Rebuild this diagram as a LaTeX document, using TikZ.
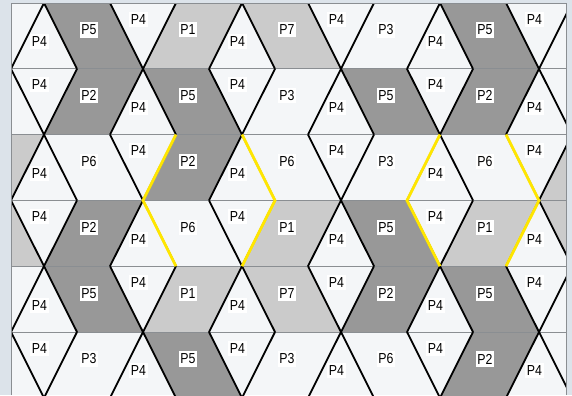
\documentclass[tikz,border=0pt]{standalone}
\usepackage{fontspec}
\usepackage{tikz}
\newfontfamily\lblfont[FakeStretch=0.85]{Liberation Sans}
\definecolor{outerbg}{HTML}{DCE3EA}
\definecolor{whitetile}{HTML}{F4F6F8}
\definecolor{lighttile}{HTML}{CBCBCB}
\definecolor{darktile}{HTML}{989898}
\definecolor{gridgray}{HTML}{8A8E92}
\definecolor{hexyellow}{HTML}{FFE600}

\begin{document}
\begin{tikzpicture}[x=33pt, y=-65.8pt,
    lbl/.style={fill=white, inner xsep=1.5pt, inner ysep=2.5pt,
                font=\lblfont\fontsize{14.5}{16}\selectfont},
    edge/.style={draw=black, line width=1.8pt},
    hexedge/.style={draw=hexyellow, line width=2.8pt},
    gridline/.style={draw=gridgray, line width=0.8pt},
]

\useasboundingbox (-1/3,-0.0456) rectangle (17,5.958);
\fill[outerbg] (-1/3,-0.0456) rectangle (17,5.958);

\begin{scope}
\clip (0,0) rectangle (16.818,5.958);
\fill[whitetile] (0,0) rectangle (16.818,5.958);

% grey tiles: row / first triangle / colour
\foreach \r/\t/\c in {0/2/darktile, 0/5/lighttile, 0/8/lighttile, 0/14/darktile,
                      1/2/darktile, 1/5/darktile, 1/11/darktile, 1/14/darktile,
                      2/-1/lighttile, 2/5/darktile, 2/17/lighttile,
                      3/-1/lighttile, 3/2/darktile, 3/8/lighttile, 3/11/darktile, 3/14/lighttile, 3/17/lighttile,
                      4/2/darktile, 4/5/lighttile, 4/8/lighttile, 4/11/darktile, 4/14/darktile,
                      5/5/darktile, 5/14/darktile}{
  \pgfmathtruncatemacro{\pa}{mod(\r+\t+2,2)==1 ? \r+1 : \r}
  \pgfmathtruncatemacro{\pb}{2*\r+1-\pa}
  \fill[\c] (\t-1,\pa) -- (\t+1,\pa) -- (\t+2,\pb) -- (\t,\pb) -- cycle;
}

\foreach \r in {1,...,5}{
  \draw[gridline] (0,\r) -- (16.818,\r);
}

% edges of the P4 triangles
\foreach \r in {0,...,5}{
  \foreach \t in {1,4,7,10,13,16}{
    \pgfmathtruncatemacro{\ap}{mod(\r+\t,2)==1 ? \r : \r+1}
    \pgfmathtruncatemacro{\bs}{2*\r+1-\ap}
    \draw[edge] (\t-1,\bs) -- (\t,\ap) -- (\t+1,\bs);
  }
}

\foreach \a/\b in {5/4, 7/8, 13/12, 15/16}{
  \draw[hexedge] (\a,2) -- (\b,3) -- (\a,4);
}

% labels
\foreach \r in {0,...,5}{
  \foreach \t in {1,4,7,10,13,16}{
    \pgfmathsetmacro{\ly}{mod(\r+\t,2)==1 ? \r+0.59 : \r+0.245}
    \node[lbl] (four-\r-\t) at (\t-0.136,\ly) {P4};
  }
}
\foreach \r/\lst in {0/{5,1,7,3,5}, 1/{2,5,3,5,2}, 2/{6,2,6,3,6},
                     3/{2,6,1,5,1}, 4/{5,1,7,2,5}, 5/{3,5,3,6,2}}{
  \foreach \n [count=\k from 0] in \lst{
    \pgfmathtruncatemacro{\t}{2+3*\k}
    \node[lbl] (par-\r-\t) at (\t+0.364,\r+0.41) {P\n};
  }
}
\end{scope}

\draw[gridline] (0,5.958) -- (0,0) -- (16.818,0) -- (16.818,5.958);

\end{tikzpicture}
\end{document}
